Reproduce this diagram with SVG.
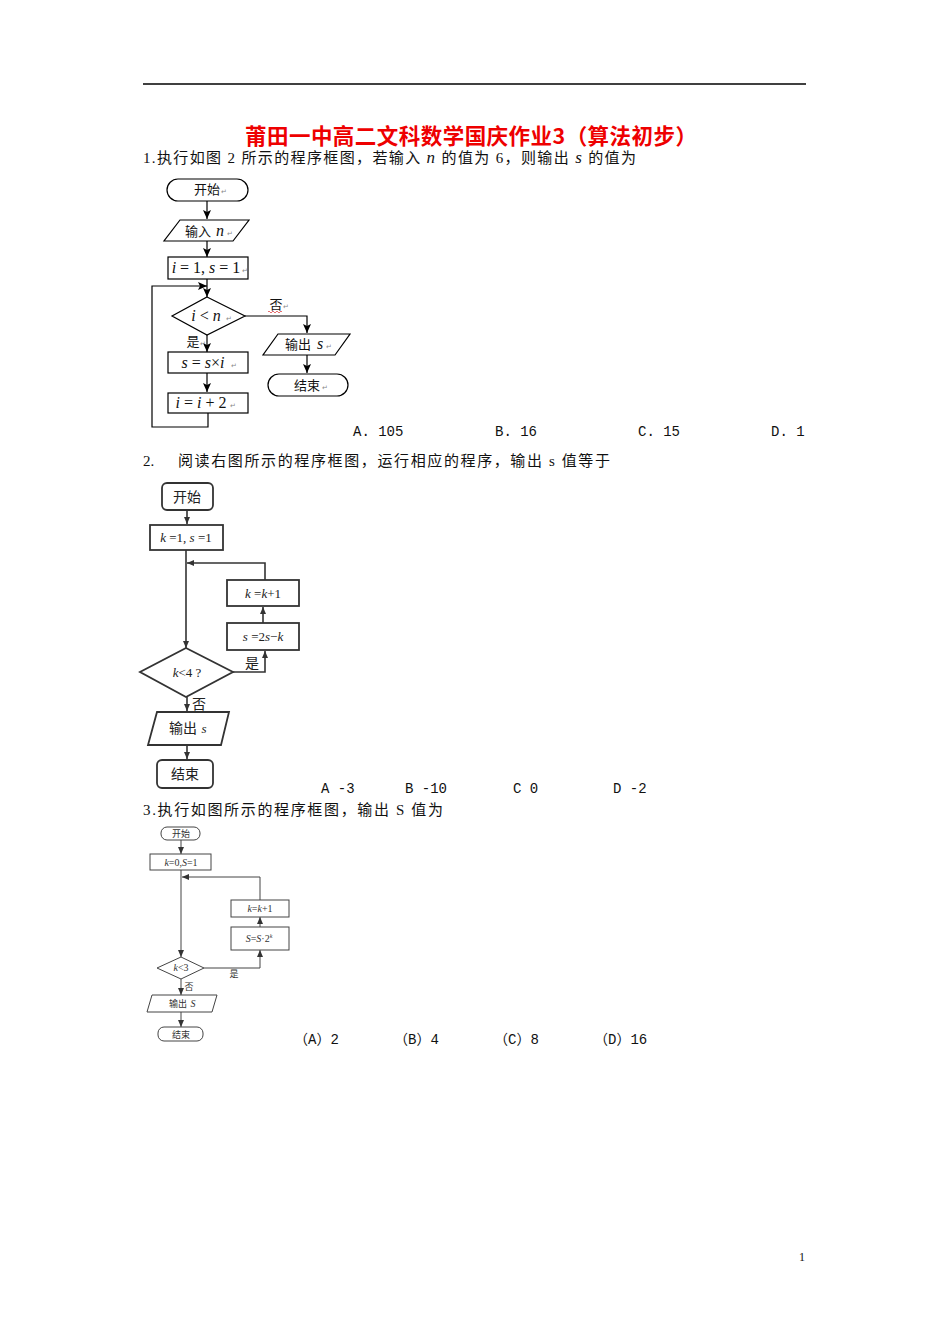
<svg xmlns="http://www.w3.org/2000/svg" width="950" height="1344" viewBox="0 0 950 1344">
<defs>
<marker id="a1" markerWidth="10" markerHeight="10" refX="9" refY="5" orient="auto" markerUnits="userSpaceOnUse"><path d="M0,1 L9,5 L0,9 L2,5 Z" fill="#000"/></marker>
<marker id="a2" markerWidth="8" markerHeight="8" refX="7" refY="4" orient="auto" markerUnits="userSpaceOnUse"><path d="M0,1 L7,4 L0,7 Z" fill="#333"/></marker>
<marker id="a3" markerWidth="8" markerHeight="8" refX="7" refY="4" orient="auto" markerUnits="userSpaceOnUse"><path d="M0,1 L7,4 L0,7 Z" fill="#333"/></marker>
</defs>
<style>
.q{font-family:"Liberation Serif","Noto Sans CJK SC",serif;font-size:15px;fill:#111}
.ans{font-family:"Liberation Mono","Noto Sans CJK SC",monospace;font-size:14px;fill:#111}
.s1{fill:#fff;stroke:#000;stroke-width:1.2}
.l1{fill:none;stroke:#000;stroke-width:1.2}
.t1{font-family:"Noto Sans CJK SC",sans-serif;font-size:13px;fill:#111;text-anchor:middle}
.m1{font-family:"Liberation Serif",serif;font-size:16px;font-style:italic;fill:#111;text-anchor:middle}
.ret{font-family:"DejaVu Sans",sans-serif;font-size:7px;fill:#888}
.s2{fill:#fff;stroke:#333;stroke-width:1.8}
.l2{fill:none;stroke:#333;stroke-width:1.6}
.t2{font-family:"Noto Sans CJK SC",sans-serif;font-size:14px;fill:#222;text-anchor:middle}
.m2{font-family:"Liberation Serif",serif;font-size:13px;font-style:italic;fill:#222;text-anchor:middle}
.s3{fill:#fff;stroke:#444;stroke-width:1}
.l3{fill:none;stroke:#444;stroke-width:1}
.t3{font-family:"Noto Sans CJK SC",sans-serif;font-size:9px;fill:#333;text-anchor:middle}
.m3{font-family:"Liberation Serif",serif;font-size:10px;font-style:italic;fill:#333;text-anchor:middle}
</style>
<rect width="950" height="1344" fill="#fff"/>
<line x1="143" y1="84" x2="806" y2="84" stroke="#000" stroke-width="1.3"/>
<text x="245" y="144" textLength="452" lengthAdjust="spacing" font-family="Noto Sans CJK SC,sans-serif" font-weight="bold" font-size="21.5" fill="#e00">莆田一中高二文科数学国庆作业3（算法初步）</text>
<text class="q" x="143" y="163" textLength="493" lengthAdjust="spacing">1.执行如图 2 所示的程序框图，若输入 <tspan font-style="italic" font-size="17">n</tspan> 的值为 6，则输出 <tspan font-style="italic" font-size="17">s</tspan> 的值为</text>
<text class="ans" x="353" y="436">A. 105</text>
<text class="ans" x="495" y="436">B. 16</text>
<text class="ans" x="638" y="436">C. 15</text>
<text class="ans" x="771" y="436">D. 1</text>
<text class="q" x="143" y="466">2.</text>
<text class="q" x="178" y="466" textLength="432" lengthAdjust="spacing">阅读右图所示的程序框图，运行相应的程序，输出 s 值等于</text>
<text class="ans" x="321" y="793">A -3</text>
<text class="ans" x="405" y="793">B  -10</text>
<text class="ans" x="513" y="793">C  0</text>
<text class="ans" x="613" y="793">D  -2</text>
<text class="q" x="143" y="815" textLength="300" lengthAdjust="spacing">3.执行如图所示的程序框图，输出 S 值为</text>
<text class="ans" x="294" y="1044">（A）2</text>
<text class="ans" x="394" y="1044">（B）4</text>
<text class="ans" x="494" y="1044">（C）8</text>
<text class="ans" x="594" y="1044">（D）16</text>
<text x="802" y="1261" font-family="Liberation Serif,serif" font-size="12" fill="#111" text-anchor="middle">1</text>

<!-- Flowchart 1 connectors -->
<g id="fc1-connectors">
<line class="l1" x1="207" y1="201" x2="207" y2="219" marker-end="url(#a1)"/>
<line class="l1" x1="207" y1="241" x2="207" y2="257" marker-end="url(#a1)"/>
<line class="l1" x1="207" y1="279" x2="207" y2="297" marker-end="url(#a1)"/>
<polyline class="l1" points="245,316 307,316 307,333" marker-end="url(#a1)"/>
<line class="l1" x1="307" y1="355" x2="307" y2="373" marker-end="url(#a1)"/>
<line class="l1" x1="207" y1="335" x2="207" y2="352" marker-end="url(#a1)"/>
<line class="l1" x1="207" y1="373" x2="207" y2="392" marker-end="url(#a1)"/>
<polyline class="l1" points="208,413 208,427 152,427 152,286 207,286" marker-end="url(#a1)"/>
<text class="t1" x="276" y="309">否</text>
<text class="ret" x="283" y="309">↵</text>
<path d="M268,312 q1,-2 2,0 t2,0 t2,0 t2,0 t2,0 t2,0 t2,0" fill="none" stroke="#d33" stroke-width="0.7"/>
<text class="t1" x="193" y="346">是</text>
<text class="ret" x="200" y="346">↵</text>
</g>
<g id="fc1-start"><rect class="s1" x="167" y="179" width="81" height="22" rx="11"/><text class="t1" x="207" y="194">开始</text><text class="ret" x="221" y="194">↵</text></g>
<g id="fc1-input"><polygon class="s1" points="180,220 249,220 233,241 164,241"/><text class="t1" x="198" y="236">输入</text><text class="m1" x="220" y="236" font-size="17">n</text><text class="ret" x="227" y="236">↵</text></g>
<g id="fc1-init"><rect class="s1" x="168" y="257" width="80" height="22"/><text class="m1" x="206" y="273"><tspan>i</tspan><tspan font-style="normal"> = 1, </tspan><tspan>s</tspan><tspan font-style="normal"> = 1</tspan></text><text class="ret" x="242" y="273">↵</text></g>
<g id="fc1-cond"><polygon class="s1" points="207,297 245,316 207,335 172,316"/><text class="m1" x="206" y="321"><tspan>i</tspan><tspan font-style="normal"> &lt; </tspan><tspan>n</tspan></text><text class="ret" x="226" y="321">↵</text></g>
<g id="fc1-output"><polygon class="s1" points="278,334 350,334 335,355 263,355"/><text class="t1" x="298" y="349">输出</text><text class="m1" x="320" y="349">s</text><text class="ret" x="326" y="349">↵</text></g>
<g id="fc1-end"><rect class="s1" x="268" y="374" width="80" height="22" rx="11"/><text class="t1" x="307" y="390" font-size="14">结束</text><text class="ret" x="322" y="390">↵</text></g>
<g id="fc1-mul"><rect class="s1" x="168" y="352" width="80" height="21"/><text class="m1" x="203" y="368"><tspan>s</tspan><tspan font-style="normal"> = </tspan><tspan>s</tspan><tspan font-style="normal">×</tspan><tspan>i</tspan></text><text class="ret" x="231" y="368">↵</text></g>
<g id="fc1-inc"><rect class="s1" x="168" y="393" width="80" height="20"/><text class="m1" x="201" y="408"><tspan>i</tspan><tspan font-style="normal"> = </tspan><tspan>i</tspan><tspan font-style="normal"> + 2</tspan></text><text class="ret" x="230" y="408">↵</text></g>

<!-- Flowchart 2 -->
<g id="fc2-connectors">
<line class="l2" x1="187" y1="510" x2="187" y2="524" marker-end="url(#a2)"/>
<line class="l2" x1="186" y1="550" x2="186" y2="648" marker-end="url(#a2)"/>
<polyline class="l2" points="265,580 265,563 187,563" marker-end="url(#a2)"/>
<line class="l2" x1="263" y1="623" x2="263" y2="607" marker-end="url(#a2)"/>
<polyline class="l2" points="233,672 265,672 265,651" marker-end="url(#a2)"/>
<line class="l2" x1="187" y1="697" x2="187" y2="711" marker-end="url(#a2)"/>
<line class="l2" x1="187" y1="745" x2="187" y2="759" marker-end="url(#a2)"/>
<text class="t2" x="252" y="668">是</text>
<text class="t2" x="199" y="709">否</text>
</g>
<g id="fc2-start"><rect class="s2" x="162" y="483" width="51" height="27" rx="5"/><text class="t2" x="187" y="502">开始</text></g>
<g id="fc2-init"><rect class="s2" x="150" y="525" width="73" height="25"/><text class="m2" x="186" y="542"><tspan>k</tspan><tspan font-style="normal"> =1, </tspan><tspan>s</tspan><tspan font-style="normal"> =1</tspan></text></g>
<g id="fc2-inc"><rect class="s2" x="227" y="580" width="72" height="26"/><text class="m2" x="263" y="598"><tspan>k</tspan><tspan font-style="normal"> =</tspan><tspan>k</tspan><tspan font-style="normal">+1</tspan></text></g>
<g id="fc2-calc"><rect class="s2" x="227" y="623" width="72" height="27"/><text class="m2" x="263" y="641"><tspan>s</tspan><tspan font-style="normal"> =2</tspan><tspan>s</tspan><tspan font-style="normal">−</tspan><tspan>k</tspan></text></g>
<g id="fc2-cond"><polygon class="s2" points="186,648 233,672 186,697 140,672"/><text class="m2" x="187" y="677"><tspan>k</tspan><tspan font-style="normal">&lt;4 ?</tspan></text></g>
<g id="fc2-output"><polygon class="s2" points="157,712 229,712 221,745 148,745"/><text class="t2" x="183" y="733">输出</text><text class="m2" x="204" y="733">s</text></g>
<g id="fc2-end"><rect class="s2" x="157" y="760" width="56" height="28" rx="5"/><text class="t2" x="185" y="779">结束</text></g>

<!-- Flowchart 3 -->
<g id="fc3-connectors">
<line class="l3" x1="181" y1="840" x2="181" y2="854" marker-end="url(#a3)"/>
<line class="l3" x1="181" y1="870" x2="181" y2="957" marker-end="url(#a3)"/>
<polyline class="l3" points="260,900 260,877 182,877" marker-end="url(#a3)"/>
<line class="l3" x1="260" y1="927" x2="260" y2="917" marker-end="url(#a3)"/>
<polyline class="l3" points="204,968 260,968 260,950" marker-end="url(#a3)"/>
<line class="l3" x1="181" y1="979" x2="181" y2="995" marker-end="url(#a3)"/>
<line class="l3" x1="181" y1="1012" x2="181" y2="1027" marker-end="url(#a3)"/>
<text class="t3" x="234" y="977">是</text>
<text class="t3" x="189" y="990">否</text>
</g>
<g id="fc3-start"><rect class="s3" x="161" y="827" width="39" height="13" rx="6"/><text class="t3" x="181" y="837">开始</text></g>
<g id="fc3-init"><rect class="s3" x="150" y="854" width="61" height="16"/><text class="m3" x="181" y="866"><tspan>k</tspan><tspan font-style="normal">=0,</tspan><tspan>S</tspan><tspan font-style="normal">=1</tspan></text></g>
<g id="fc3-inc"><rect class="s3" x="231" y="900" width="58" height="17"/><text class="m3" x="260" y="912"><tspan>k</tspan><tspan font-style="normal">=</tspan><tspan>k</tspan><tspan font-style="normal">+1</tspan></text></g>
<g id="fc3-calc"><rect class="s3" x="231" y="927" width="58" height="23"/><text class="m3" x="259" y="942"><tspan>S</tspan><tspan font-style="normal">=</tspan><tspan>S</tspan><tspan font-style="normal">·2</tspan><tspan font-size="6" dy="-4">k</tspan></text></g>
<g id="fc3-cond"><polygon class="s3" points="181,957 204,968 181,979 157,968"/><text class="m3" x="181" y="971"><tspan>k</tspan><tspan font-style="normal">&lt;3</tspan></text></g>
<g id="fc3-output"><polygon class="s3" points="152,995 217,995 212,1012 147,1012"/><text class="t3" x="178" y="1007">输出</text><text class="m3" x="193" y="1007">S</text></g>
<g id="fc3-end"><rect class="s3" x="158" y="1027" width="45" height="14" rx="6"/><text class="t3" x="181" y="1038">结束</text></g>
</svg>
